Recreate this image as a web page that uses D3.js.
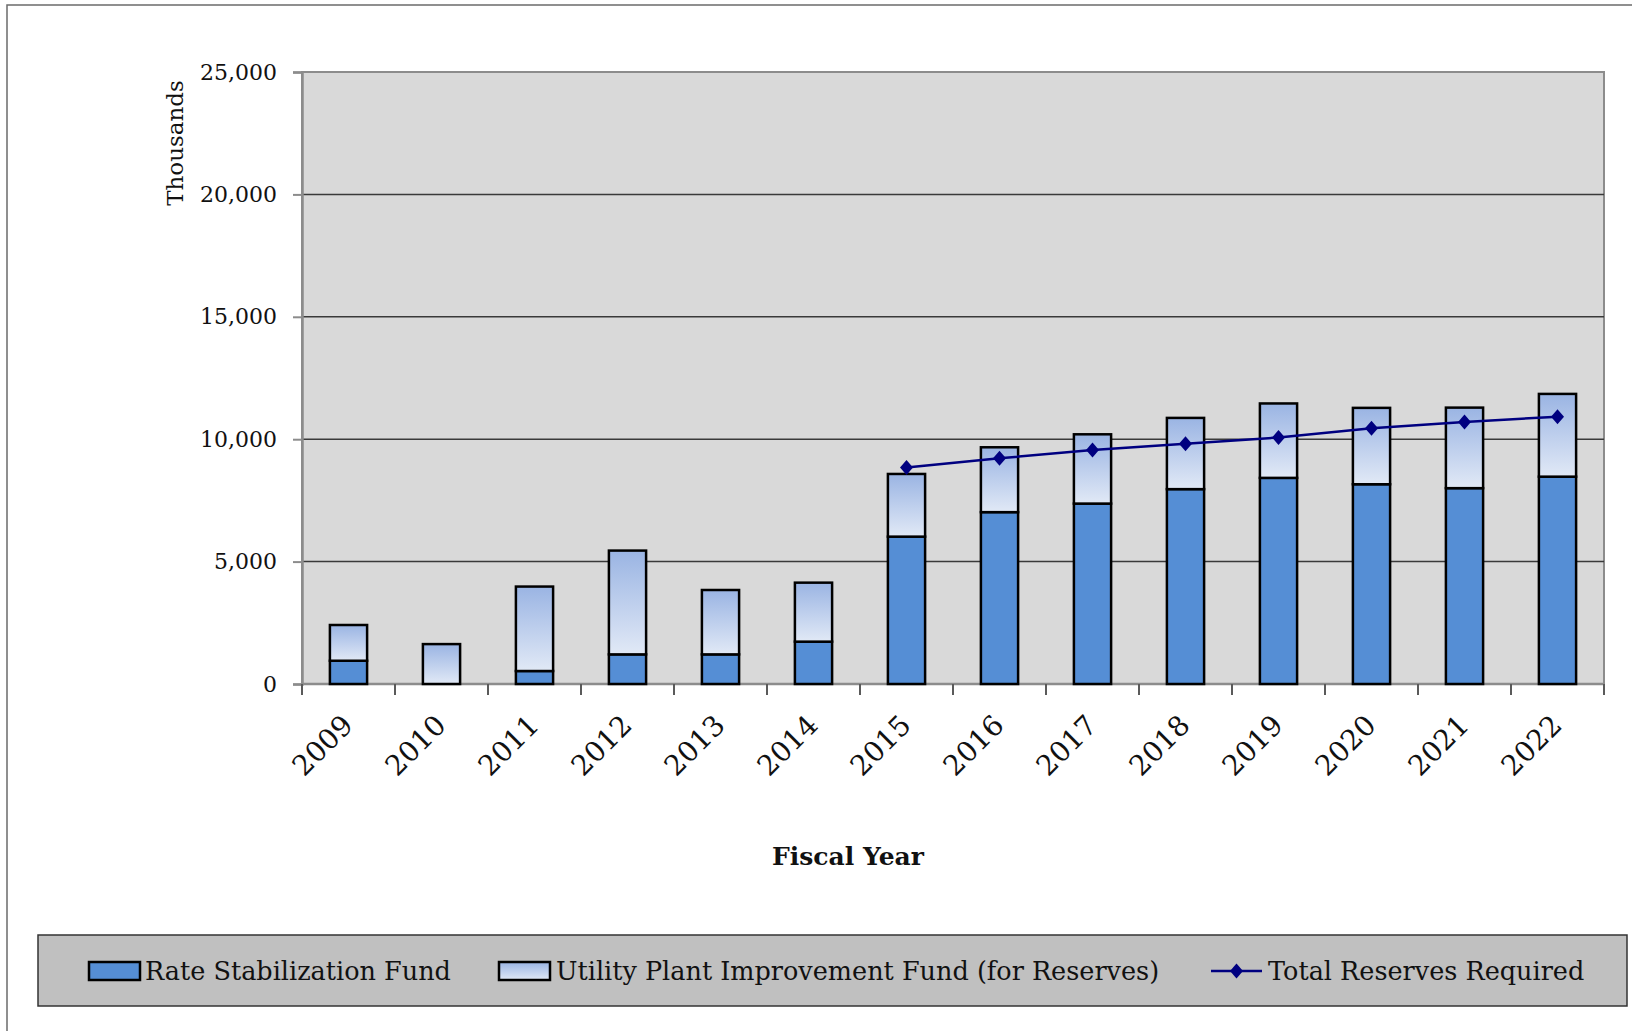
<!DOCTYPE html>
<html>
<head>
<meta charset="utf-8">
<script src="https://cdn.jsdelivr.net/npm/d3@7"></script>
<style>
  html, body { margin: 0; padding: 0; background: #fff; }
  svg { display: block; }
  text { font-family: "DejaVu Serif", "Liberation Serif", serif; fill: #111; }
</style>
</head>
<body>
<svg id="chart" width="1632" height="1031"></svg>
<script>
// ---- data ----
const years = ["2009","2010","2011","2012","2013","2014","2015","2016","2017","2018","2019","2020","2021","2022"];
const rateStabilization = [950, 0, 530, 1210, 1210, 1730, 6020, 7020, 7370, 7960, 8420, 8160, 8000, 8470];
const utilityPlant = [1460, 1630, 3450, 4240, 2630, 2410, 2560, 2650, 2830, 2910, 3040, 3120, 3290, 3380];
const reserveYears = ["2015","2016","2017","2018","2019","2020","2021","2022"];
const totalReserves = [8840, 9220, 9560, 9810, 10070, 10450, 10700, 10920];
const yTicks = [0, 5000, 10000, 15000, 20000, 25000];
const seriesNames = ["Rate Stabilization Fund", "Utility Plant Improvement Fund (for Reserves)", "Total Reserves Required"];

// ---- layout ----
const svg = d3.select("#chart");
const plot = { left: 302, right: 1604, top: 72, bottom: 684 };

svg.append("rect").attr("x", 7).attr("y", 5).attr("width", 1660).attr("height", 1060)
  .attr("fill", "#fff").attr("stroke", "#6b6b6b").attr("stroke-width", 1.5);

const defs = svg.append("defs");
const grad = defs.append("linearGradient").attr("id", "upifGrad")
  .attr("x1", 0).attr("y1", 0).attr("x2", 0).attr("y2", 1);
grad.append("stop").attr("offset", "0%").attr("stop-color", "#9ab4e3");
grad.append("stop").attr("offset", "100%").attr("stop-color", "#e1e9f6");

const x = d3.scaleBand().domain(years).range([plot.left, plot.right])
  .paddingInner(0.6).paddingOuter(0.3);
const y = d3.scaleLinear().domain([0, 25000]).range([plot.bottom, plot.top]);

// plot background
svg.append("rect").attr("x", plot.left).attr("y", plot.top)
  .attr("width", plot.right - plot.left).attr("height", plot.bottom - plot.top)
  .attr("fill", "#d9d9d9").attr("stroke", "#8c8c8c").attr("stroke-width", 2);

// gridlines
svg.append("g").selectAll("line").data(yTicks.filter(t => t > 0 && t < 25000)).join("line")
  .attr("x1", plot.left).attr("x2", plot.right)
  .attr("y1", d => y(d)).attr("y2", d => y(d))
  .attr("stroke", "#3a3a3a").attr("stroke-width", 1.5);

// y axis
const yAxis = svg.append("g").attr("transform", `translate(${plot.left},0)`)
  .call(d3.axisLeft(y).tickValues(yTicks).tickFormat(d3.format(",")).tickSize(9).tickPadding(16));
yAxis.select(".domain").attr("stroke", "#8c8c8c").attr("stroke-width", 2.5);
yAxis.selectAll(".tick line").attr("stroke", "#8c8c8c").attr("stroke-width", 2);
yAxis.selectAll(".tick text").style("font-family", "DejaVu Serif").style("font-size", "22px").attr("fill", "#111");

// x axis (ticks between categories)
const xAxisG = svg.append("g").attr("transform", `translate(0,${plot.bottom})`);
xAxisG.append("line").attr("x1", plot.left).attr("x2", plot.right).attr("y1", 0).attr("y2", 0)
  .attr("stroke", "#8c8c8c").attr("stroke-width", 2.5);
const boundaries = years.map(d => x(d) - x.step() * x.paddingOuter()).concat([plot.right]);
xAxisG.selectAll("line.tk").data(boundaries).join("line").attr("class", "tk")
  .attr("x1", d => d).attr("x2", d => d).attr("y1", 0).attr("y2", 11)
  .attr("stroke", "#5a5a5a").attr("stroke-width", 2);
xAxisG.selectAll("text.yl").data(years).join("text").attr("class", "yl")
  .attr("transform", d => `translate(${x(d) + x.bandwidth() / 2 + 6},${43}) rotate(-45)`)
  .attr("text-anchor", "end").style("font-size", "28px").text(d => d);

// stacked bars
const rows = years.map((yr, i) => ({ year: yr, rate: rateStabilization[i], upif: utilityPlant[i] }));
const stack = d3.stack().keys(["rate", "upif"])(rows);
const fills = { rate: "#558ed5", upif: "url(#upifGrad)" };
svg.append("g").selectAll("g").data(stack).join("g")
  .attr("fill", d => fills[d.key])
  .selectAll("rect").data(d => d.filter(p => p[1] - p[0] > 0)).join("rect")
  .attr("x", p => x(p.data.year)).attr("width", x.bandwidth())
  .attr("y", p => y(p[1])).attr("height", p => y(p[0]) - y(p[1]))
  .attr("stroke", "#000").attr("stroke-width", 2.5);

// line
const linePts = reserveYears.map((yr, i) => ({ year: yr, v: totalReserves[i] }));
const cx = d => x(d.year) + x.bandwidth() / 2;
svg.append("path").datum(linePts)
  .attr("d", d3.line().x(cx).y(d => y(d.v)))
  .attr("fill", "none").attr("stroke", "#000080").attr("stroke-width", 2.5);
const diamond = "M0,-7.5L6.5,0L0,7.5L-6.5,0Z";
svg.append("g").selectAll("path").data(linePts).join("path")
  .attr("d", diamond).attr("transform", d => `translate(${cx(d)},${y(d.v)})`)
  .attr("fill", "#000080");

// axis titles
svg.append("text").attr("transform", "translate(183,143) rotate(-90)")
  .attr("text-anchor", "middle").style("font-size", "23px").text("Thousands");
svg.append("text").attr("x", 848).attr("y", 865).attr("text-anchor", "middle")
  .style("font-size", "25px").style("font-weight", "bold").text("Fiscal Year");

// legend
const lg = svg.append("g");
lg.append("rect").attr("x", 38).attr("y", 935).attr("width", 1589).attr("height", 71)
  .attr("fill", "#c0c0c0").attr("stroke", "#333").attr("stroke-width", 1.5);
const legendItems = [
  { name: seriesNames[0], sx: 89, tx: 145, type: "rate" },
  { name: seriesNames[1], sx: 499, tx: 556, type: "upif" },
  { name: seriesNames[2], sx: 1211, tx: 1268, type: "line" }
];
legendItems.forEach(it => {
  if (it.type === "line") {
    lg.append("line").attr("x1", it.sx).attr("x2", it.sx + 51).attr("y1", 971).attr("y2", 971)
      .attr("stroke", "#000080").attr("stroke-width", 2.5);
    lg.append("path").attr("d", diamond).attr("transform", `translate(${it.sx + 25.5},971)`)
      .attr("fill", "#000080");
  } else {
    lg.append("rect").attr("x", it.sx).attr("y", 962).attr("width", 51).attr("height", 18)
      .attr("fill", fills[it.type]).attr("stroke", "#000").attr("stroke-width", 2.5);
  }
  lg.append("text").attr("x", it.tx).attr("y", 980).style("font-size", "25.5px").text(it.name);
});
</script>
</body>
</html>
